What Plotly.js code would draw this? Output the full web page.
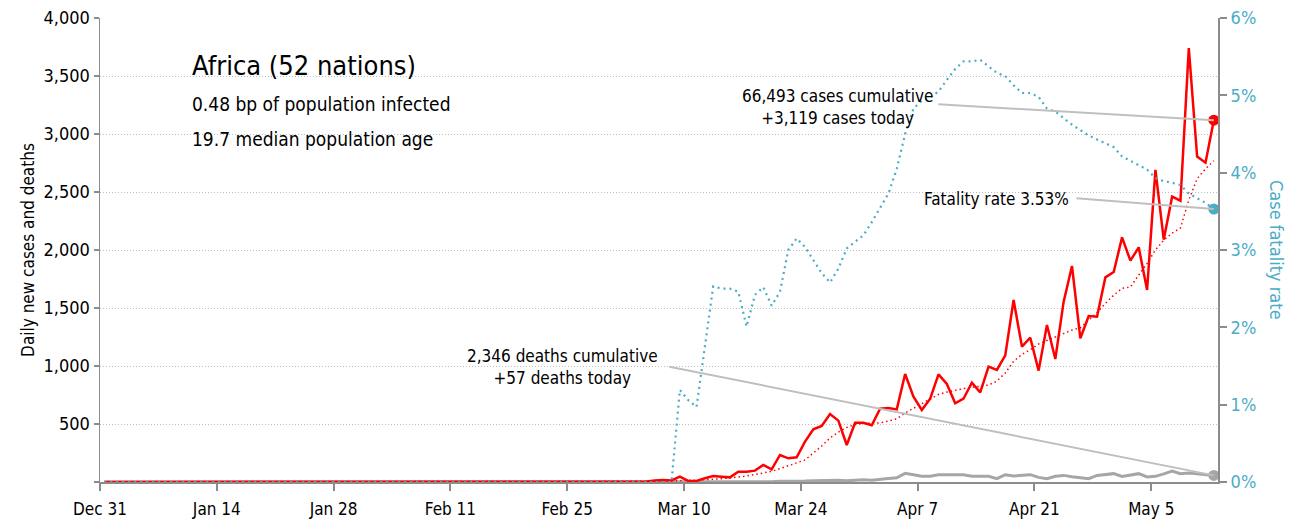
<!DOCTYPE html>
<html>
<head>
<meta charset="utf-8">
<script src="https://cdn.plot.ly/plotly-3.0.1.min.js"></script>
<style>
  html, body { margin: 0; padding: 0; background: #fff; }
  #chart { width: 1299px; height: 522px; }
</style>
</head>
<body>
<div id="chart"></div>
<script>
// ---------- DATA (one value per day, starting 2019-12-31) ----------
const startDate = [2019, 11, 31];

// daily new cases
const dailyCases = [
  0,0,0,0,0,0,0,0,0,0, 0,0,0,0,0,0,0,0,0,0, 0,0,0,0,0,0,0,0,0,0, 0,0,0,0,0,0,0,0,0,0, 0,0,0,0,0,0,
  1,0,0,0,0,0,0,0,0,0,0,1,0,1,0,
  1,2,2,3,4,12,18,14,46,9, 9,32,52,46,40,89,89,98,147,109, 233,204,213,348,454,483,586,529,319,511, 511,
  489,632,638,626,931,736,621,718,928,845, 678,718,856,773,994,966,1092,1569,1167,1244, 960,1353,1060,1555,1862,1239,1431,1425,1764,1810,
  2109,1908,2023,1655,2690,2090,2460,2425,3740,2805,2753,3119
];

// smoothed daily cases (dotted red)
const smoothedCases = [
  0,0,0,0,0,0,0,0,0,0, 0,0,0,0,0,0,0,0,0,0, 0,0,0,0,0,0,0,0,0,0, 0,0,0,0,0,0,0,0,0,0, 0,0,0,0,0,0,
  0,0,0,0,0,0,0,0,0,0,0,0,0,0,0,
  0.4,0.7,1,1.4,2,3.6,6,8,14,15, 16,19,25,29,35,42,52,64,80,92, 115,138,162,190,250,310,380,430,470,495, 505,
  505,510,525,545,595,635,670,715,755,775, 793,805,816,826,836,870,940,1040,1100,1140, 1190,1220,1250,1280,1310,1330,1395,1460,1540,1610,
  1670,1680,1785,1885,2000,2085,2145,2190,2430,2615,2700,2770
];

// daily new deaths
const dailyDeaths = [
  0,0,0,0,0,0,0,0,0,0, 0,0,0,0,0,0,0,0,0,0, 0,0,0,0,0,0,0,0,0,0, 0,0,0,0,0,0,0,0,0,0, 0,0,0,0,0,0,
  0,0,0,0,0,0,0,0,0,0,0,0,0,0,0,
  0,0,0,0,0,0,0,1,0,1, 0,1,2,0,1,2,1,3,4,3, 7,6,6,8,10,12,8,15,10,18, 20,
  15,25,30,37,75,62,50,50,62,63, 63,63,50,49,49,29,63,52,55,63, 40,29,50,57,45,36,29,57,65,72,
  48,60,72,43,49,70,95,72,78,70,66,57
];

// case fatality rate, percent
const fatalityRate = [
  0,0,0,0,0,0,0,0,0,0, 0,0,0,0,0,0,0,0,0,0, 0,0,0,0,0,0,0,0,0,0, 0,0,0,0,0,0,0,0,0,0, 0,0,0,0,0,0,
  0,0,0,0,0,0,0,0,0,0,0,0,0,0,0,
  0,0,0,0,0,0,0,0,1.19,1.06, 0.97,1.75,2.53,2.50,2.50,2.46,2.01,2.42,2.52,2.28, 2.46,3.00,3.15,3.04,2.87,2.70,2.58,2.76,3.02,3.11, 3.19,
  3.36,3.55,3.73,4.05,4.50,4.83,4.93,4.97,5.05,5.20, 5.34,5.44,5.44,5.46,5.37,5.29,5.25,5.13,5.03,5.03, 4.98,4.83,4.79,4.70,4.62,4.55,4.48,4.43,4.38,4.33,
  4.21,4.15,4.10,4.04,3.93,3.89,3.87,3.84,3.73,3.67,3.61,3.53
];

const cumulativeCases = 66493;
const cumulativeDeaths = 2346;

const xTickVals = ['2019-12-31','2020-01-14','2020-01-28','2020-02-11','2020-02-25','2020-03-10','2020-03-24','2020-04-07','2020-04-21','2020-05-05'];
const xTickText = ['Dec 31','Jan 14','Jan 28','Feb 11','Feb 25','Mar 10','Mar 24','Apr 7','Apr 21','May 5'];
const yTickVals = [0,500,1000,1500,2000,2500,3000,3500,4000];
const yTickText = ['','500','1,000','1,500','2,000','2,500','3,000','3,500','4,000'];
const y2TickVals = [0,1,2,3,4,5,6];
const y2TickText = ['0%','1%','2%','3%','4%','5%','6%'];

const titleText = 'Africa (52 nations)';
const subtitle1 = '0.48 bp of population infected';
const subtitle2 = '19.7 median population age';

// ---------- BUILD ----------
const dates = dailyCases.map((_, i) => {
  const d = new Date(Date.UTC(startDate[0], startDate[1], startDate[2] + i, 12));
  return d.toISOString().slice(0, 10) + ' 12:00';
});
const last = dates.length - 1;
const fmt = n => n.toLocaleString('en-US');

const FONT = "'DejaVu Sans Condensed', 'Liberation Sans Narrow', sans-serif";
const RED = '#ff0000', BLUE = '#4bacc6', GRAY = '#a6a6a6', LINEGRAY = '#bfbfbf', AXIS = '#8c8c8c';

const traces = [
  { x: dates, y: dailyDeaths, type: 'scatter', mode: 'lines', line: {color: GRAY, width: 3}, hoverinfo: 'skip' },
  { x: dates, y: smoothedCases, type: 'scatter', mode: 'lines', line: {color: RED, width: 1.5, dash: '1.5px,3px'}, hoverinfo: 'skip' },
  { x: dates, y: dailyCases, type: 'scatter', mode: 'lines', line: {color: RED, width: 2.5}, hoverinfo: 'skip' },
  { x: [dates[last]], y: [dailyDeaths[last]], type: 'scatter', mode: 'markers', marker: {color: GRAY, size: 11}, hoverinfo: 'skip' },
  { x: [dates[last]], y: [dailyCases[last]], type: 'scatter', mode: 'markers', marker: {color: RED, size: 11}, hoverinfo: 'skip' },
  { x: dates, y: fatalityRate, yaxis: 'y2', type: 'scatter', mode: 'lines', line: {color: BLUE, width: 2.2, dash: '2px,4px'}, hoverinfo: 'skip' },
  { x: [dates[last]], y: [fatalityRate[last]], yaxis: 'y2', type: 'scatter', mode: 'markers', marker: {color: BLUE, size: 11}, hoverinfo: 'skip' }
];

// leader line (empty-text annotation) + separate label, both anchored on the data point
function leader(x, y, yref, ax, ay) {
  return {x: x, y: y, xref: 'x', yref: yref, text: ' ', showarrow: true, arrowhead: 0,
          arrowwidth: 2, arrowcolor: LINEGRAY, ax: ax, ay: ay, standoff: 0, startstandoff: 0,
          font: {size: 1}};
}
function label(x, y, yref, text, xshift, yshift) {
  return {x: x, y: y, xref: 'x', yref: yref, text: text, showarrow: false,
          xshift: xshift, yshift: yshift, xanchor: 'center', yanchor: 'middle', align: 'center',
          font: {family: FONT, size: 17, color: '#000'}};
}

const layout = {
  width: 1299, height: 522,
  margin: {l: 100, r: 81, t: 18, b: 40},
  paper_bgcolor: '#fff', plot_bgcolor: '#fff',
  showlegend: false,
  font: {family: FONT, color: '#000', size: 17},
  xaxis: {
    type: 'date', range: ['2019-12-31', '2020-05-13'],
    tickvals: xTickVals, ticktext: xTickText,
    showgrid: false, zeroline: false,
    showline: true, linecolor: AXIS, linewidth: 2,
    ticks: 'outside', ticklen: 7, tickwidth: 2, tickcolor: AXIS,
    ticklabelstandoff: 4,
    tickfont: {family: FONT, size: 17, color: '#000'}
  },
  yaxis: {
    range: [0, 4000], tickvals: yTickVals, ticktext: yTickText,
    showgrid: true, gridcolor: LINEGRAY, gridwidth: 1, griddash: '1px,2px',
    zeroline: false, showline: true, linecolor: AXIS, linewidth: 1.5,
    ticks: 'outside', ticklen: 5, tickwidth: 1.5, tickcolor: AXIS,
    tickfont: {family: FONT, size: 18, color: '#000'},
    title: {text: 'Daily new cases and deaths', font: {family: FONT, size: 17, color: '#000'}, standoff: 4}
  },
  yaxis2: {
    overlaying: 'y', side: 'right', range: [0, 6],
    tickvals: y2TickVals, ticktext: y2TickText,
    showgrid: false, zeroline: false, showline: true, linecolor: AXIS, linewidth: 2,
    ticks: 'outside', ticklen: 7, tickwidth: 2, tickcolor: AXIS,
    tickfont: {family: FONT, size: 18, color: BLUE}
  },
  annotations: [
    {xref: 'paper', yref: 'paper', x: 0.0805, y: 0.897, xanchor: 'left', yanchor: 'middle', showarrow: false,
     text: titleText, font: {family: FONT, size: 27, color: '#000'}},
    {xref: 'paper', yref: 'paper', x: 0.0805, y: 0.815, xanchor: 'left', yanchor: 'middle', showarrow: false,
     text: subtitle1, font: {family: FONT, size: 19, color: '#000'}},
    {xref: 'paper', yref: 'paper', x: 0.0805, y: 0.739, xanchor: 'left', yanchor: 'middle', showarrow: false,
     text: subtitle2, font: {family: FONT, size: 19, color: '#000'}},
    {xref: 'paper', yref: 'paper', x: 1.0528, y: 0.5, xanchor: 'center', yanchor: 'middle', showarrow: false,
     textangle: 90, text: 'Case fatality rate', font: {family: FONT, size: 18, color: BLUE}},
    leader(dates[last], dailyCases[last], 'y', -277, -16),
    label(dates[last], dailyCases[last], 'y',
          fmt(cumulativeCases) + ' cases cumulative<br>+' + fmt(dailyCases[last]) + ' cases today', -376, 13),
    leader(dates[last], fatalityRate[last], 'y2', -139, -11),
    label(dates[last], fatalityRate[last], 'y2', 'Fatality rate ' + fatalityRate[last].toFixed(2) + '%', -217, 10),
    leader(dates[last], dailyDeaths[last], 'y', -546, -109),
    label(dates[last], dailyDeaths[last], 'y',
          fmt(cumulativeDeaths) + ' deaths cumulative<br>+' + fmt(dailyDeaths[last]) + ' deaths today', -651, 108)
  ]
};

Plotly.newPlot('chart', traces, layout, {displayModeBar: false, staticPlot: true});
</script>
</body>
</html>
